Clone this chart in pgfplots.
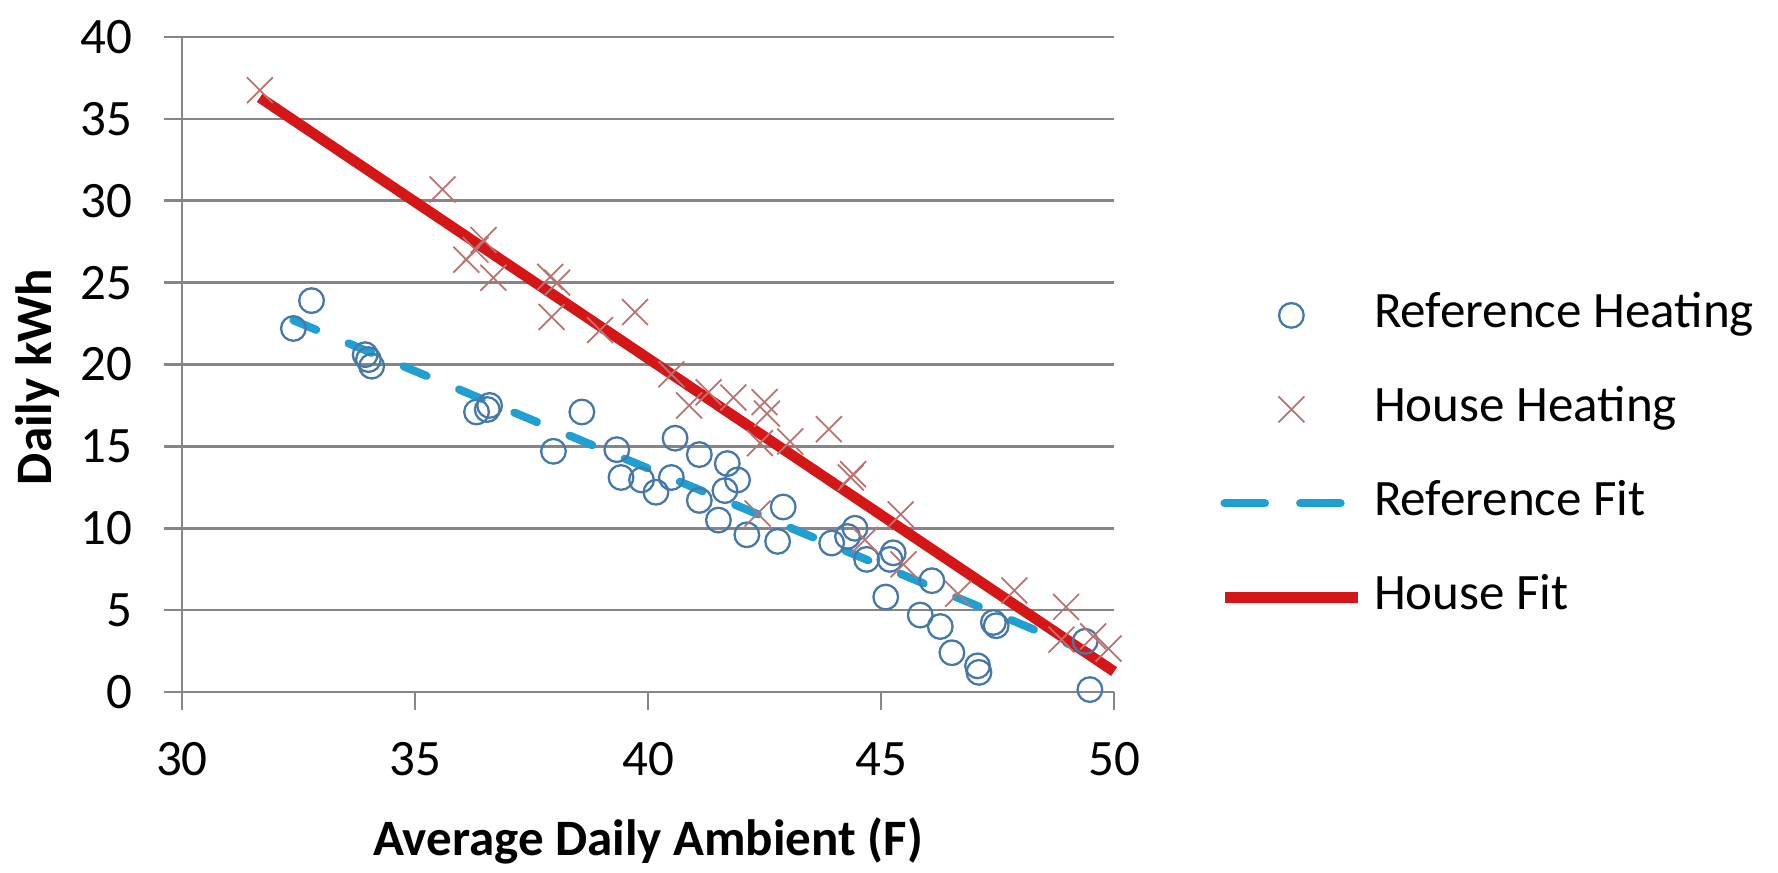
\documentclass[border=0pt]{standalone}
\usepackage{fontspec}
\setmainfont{Carlito}
\usepackage{pgfplots}
\usepackage{pgfplotstable}
\pgfplotsset{compat=1.18}
\definecolor{gridgray}{RGB}{134,134,134}
\definecolor{refblue}{RGB}{70,120,170}
\definecolor{houseX}{RGB}{185,115,115}
\definecolor{fitblue}{RGB}{32,160,210}
\definecolor{fitred}{RGB}{212,22,22}

\pgfplotstableread{
x y
32.39 22.2
32.78 23.9
33.93 20.6
34.00 20.3
34.07 19.9
36.32 17.1
36.60 17.5
36.55 17.25
37.97 14.7
38.58 17.1
39.33 14.8
39.42 13.1
39.86 12.95
40.17 12.2
40.50 13.1
40.58 15.5
41.10 14.5
41.10 11.7
41.51 10.5
41.70 13.95
41.92 12.95
41.65 12.3
42.12 9.6
42.90 11.3
42.78 9.2
43.94 9.1
44.28 9.5
44.44 10.0
44.69 8.1
45.19 8.1
45.26 8.5
45.10 5.8
45.84 4.7
46.09 6.8
46.27 4.0
46.52 2.4
47.07 1.6
47.10 1.2
47.41 4.25
47.47 4.05
49.38 3.1
49.48 0.15
}\refheat

\pgfplotstableread{
x y
31.67 36.75
35.59 30.69
36.47 27.6
36.30 27.0
36.10 26.4
36.68 25.3
37.90 25.35
38.05 25.0
37.93 22.9
38.97 22.1
39.72 23.2
40.50 19.4
40.88 17.5
41.30 18.3
41.83 17.98
42.50 17.7
42.55 17.0
42.40 15.2
43.05 15.3
43.88 16.05
44.40 13.3
44.35 13.1
42.35 10.9
44.65 9.3
45.42 10.85
45.48 7.8
46.65 6.0
47.86 6.2
48.97 5.2
48.87 3.2
49.55 3.4
49.88 2.65
}\househeat

\begin{document}
\fontsize{14.5}{17}\selectfont
\begin{tikzpicture}
\useasboundingbox (-51.7pt,-51.4pt) rectangle (453.4pt,196.6pt);
\begin{axis}[
  at={(0,0)}, anchor=south west,
  scale only axis,
  width=264.8pt, height=186.1pt,
  xmin=30, xmax=50, ymin=0, ymax=40,
  xtick={30,35,40,45,50},
  ytick={0,5,10,15,20,25,30,35,40},
  axis lines=left,
  axis line style={-, gridgray, line width=0.75pt},
  tick align=outside,
  major tick length=5pt,
  tick style={gridgray, line width=0.75pt},
  ymajorgrids,
  grid style={gridgray, line width=0.75pt},
  /pgf/number format/assume math mode=true,
  xticklabel style={anchor=base, inner sep=0pt, yshift=-18.6pt},
  yticklabel style={anchor=east, inner sep=0pt, xshift=-9pt},
  xlabel={\textbf{Average Daily Ambient (F)}},
  ylabel={\textbf{Daily kWh}},
  xlabel style={at={(axis description cs:0.5,-0.249)}, anchor=base, inner sep=0pt},
  ylabel style={at={(axis description cs:-0.155,0.481)}, anchor=center, inner sep=0pt},
  clip=false,
  legend image code/.code={\draw[mark repeat=2,mark phase=2,#1] plot coordinates {(0pt,0pt) (19pt,0pt) (38pt,0pt)};},
  legend style={draw=none, fill=none, inner sep=0pt,
    at={(axis description cs:1.112,0.611)}, anchor=north west,
    nodes={inner sep=0pt, text height=10pt, text depth=3pt},
    row sep=13.7pt, column sep=3pt,
    legend cell align=left},
]
\addplot[only marks, mark=o, mark size=3.5pt, mark options={refblue, line width=0.65pt}] table[x=x,y=y] {\refheat};
\addlegendentry{Reference Heating}
\addplot[only marks, mark=x, mark size=5.2pt, mark options={houseX, line width=0.5pt}] table[x=x,y=y] {\househeat};
\addlegendentry{House Heating}
\addplot[fitblue, line width=2.3pt, line cap=round, dash pattern=on 7pt off 10pt, legend image post style={dash pattern=on 11.5pt off 10pt}] coordinates {(32.39,22.7) (49.48,2.39)};
\addlegendentry{Reference Fit}
\addplot[fitred, line width=3pt] coordinates {(31.67,36.3) (50,1.25)};
\addlegendentry{House Fit}
\end{axis}
\end{tikzpicture}
\end{document}
